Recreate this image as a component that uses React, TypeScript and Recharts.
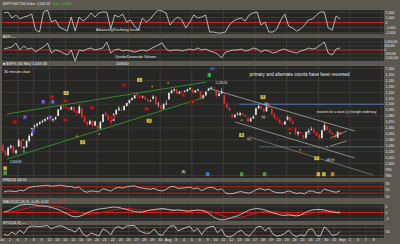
import React from 'react';
import {
  ComposedChart,
  Line,
  Bar,
  XAxis,
  YAxis,
  CartesianGrid,
  ReferenceLine,
  ReferenceDot,
} from 'recharts';

const FRAME = '#5b5850';
const PANEL_BG = '#262624';
const GRID = '#4e4d49';
const TXT = '#e8e8e8';
const RED = '#d41c1c';
const FONT = 'Liberation Sans, Arial, sans-serif';
const X_MAX = 48.3;

// 30-minute-ish OHLC bars (3 per trading day), Jul 1 - Aug 31
const ohlc: number[][] = [
  [1031,1034,1019,1021],[1021,1023,1011,1014],[1014,1028,1012,1027],
  [1027,1032,1024,1030],[1030,1031,1016,1018],[1018,1024,1015,1022],
  [1029,1042,1028,1039],[1039,1040,1024,1026],[1026,1030,1018,1028],
  [1028,1040,1026,1038],[1038,1049,1036,1047],[1047,1060,1046,1060],
  [1062,1066,1058,1064],[1064,1069,1061,1067],[1067,1071,1065,1070],
  [1070,1074,1068,1072],[1072,1076,1070,1075],[1075,1078,1073,1078],
  [1077,1080,1071,1073],[1073,1076,1070,1075],[1075,1079,1073,1078],
  [1080,1092,1080,1091],[1091,1099,1090,1096],[1096,1098,1093,1095],
  [1095,1100,1092,1093],[1093,1095,1089,1091],[1091,1096,1090,1095],
  [1095,1097,1086,1088],[1088,1090,1081,1085],[1085,1099,1084,1096],
  [1093,1093,1076,1078],[1078,1080,1068,1070],[1070,1072,1063,1065],
  [1066,1074,1065,1072],[1072,1073,1061,1064],[1064,1072,1063,1071],
  [1064,1065,1056,1059],[1059,1072,1058,1070],[1070,1083,1069,1083],
  [1086,1088,1080,1081],[1081,1083,1072,1074],[1074,1076,1065,1069],
  [1072,1085,1072,1083],[1083,1092,1082,1090],[1090,1097,1088,1093],
  [1092,1094,1086,1090],[1090,1098,1089,1097],[1097,1103,1096,1102],
  [1102,1108,1101,1107],[1107,1112,1106,1110],[1110,1115,1109,1115],
  [1118,1120,1112,1114],[1114,1116,1109,1111],[1111,1115,1110,1113],
  [1112,1114,1107,1108],[1108,1110,1103,1105],[1105,1108,1104,1106],
  [1109,1116,1108,1113],[1113,1114,1099,1100],[1100,1104,1095,1101],
  [1098,1099,1089,1092],[1092,1102,1091,1100],[1100,1107,1098,1101],
  [1108,1120,1108,1119],[1119,1125,1117,1123],[1123,1127,1121,1125],
  [1125,1126,1116,1118],[1118,1122,1117,1121],[1121,1123,1118,1120],
  [1121,1124,1120,1122],[1122,1126,1121,1125],[1125,1129,1124,1127],
  [1125,1126,1118,1120],[1120,1124,1119,1123],[1123,1126,1122,1125],
  [1122,1122,1107,1110],[1110,1116,1109,1115],[1115,1122,1114,1121],
  [1123,1127,1122,1126],[1126,1130,1124,1128],[1128,1129,1125,1127],
  [1122,1123,1111,1114],[1114,1120,1113,1118],[1118,1127,1117,1122],
  [1116,1116,1100,1101],[1101,1103,1092,1094],[1094,1096,1088,1089],
  [1082,1085,1076,1078],[1078,1084,1077,1082],[1082,1087,1081,1083],
  [1082,1087,1080,1085],[1085,1086,1080,1082],[1082,1083,1079,1079],
  [1077,1078,1069,1071],[1071,1077,1070,1076],[1076,1082,1075,1079],
  [1082,1094,1082,1093],[1093,1100,1092,1097],[1097,1098,1091,1092],
  [1092,1095,1086,1088],[1088,1097,1087,1096],[1096,1100,1093,1094],
  [1093,1095,1082,1083],[1083,1086,1074,1077],[1077,1079,1070,1075],
  [1073,1077,1066,1068],[1068,1070,1064,1066],[1066,1072,1065,1071],
  [1074,1081,1073,1078],[1078,1079,1070,1071],[1071,1073,1066,1067],
  [1060,1060,1048,1050],[1050,1055,1046,1053],[1053,1054,1049,1051],
  [1048,1049,1040,1043],[1043,1054,1042,1053],[1053,1059,1052,1055],
  [1057,1062,1055,1058],[1058,1059,1050,1052],[1052,1054,1047,1047],
  [1049,1050,1039,1043],[1043,1057,1042,1056],[1056,1066,1055,1065],
  [1063,1064,1055,1057],[1057,1058,1050,1052],[1052,1054,1048,1049],
  [1047,1050,1040,1044],[1044,1055,1043,1053],[1053,1054,1047,1049],
];

// Indicators, 2 readings per trading day
const adIssues = [
  1900,2100,900,1500,700,1100,1300,1700,-1500,-1900,
  2100,2500,100,500,-900,-1300,-1700,1100,-1700,1100,
  300,900,1900,1100,1900,2100,2100,-1300,1500,1100,
  1700,100,500,-700,-1500,900,100,700,1700,2500,
  2300,1900,-500,500,1100,500,-1100,100,1500,900,
  1100,1500,-1900,-1900,-2100,-2100,-1900,-500,300,700,
  900,300,1500,1900,2100,-500,100,-1900,-1900,-1300,
  500,1700,-700,-1100,-1700,-1300,-500,500,700,1500,
  2100,2100,-1100,-1500,1300,700,
];
const udVolume = [
  125000,250000,375000,875000,0,500000,125000,250000,-250000,125000,
  375000,875000,-375000,0,-125000,-375000,-625000,0,-1375000,0,
  -125000,125000,250000,0,125000,250000,1000000,-375000,0,125000,
  -125000,0,-125000,-250000,-125000,0,-125000,125000,375000,625000,
  875000,125000,-125000,0,0,-125000,0,125000,0,250000,
  0,125000,-125000,-250000,-500000,-1000000,-250000,-125000,0,0,
  125000,-125000,0,250000,125000,-250000,0,-125000,-375000,-250000,
  0,125000,-125000,-250000,-375000,-125000,0,250000,125000,250000,
  625000,1000000,-375000,-625000,125000,250000,
];
const rsi = [
  38,44,42,40,48,45,62,70,73,75,77,79,74,76,80,78,72,73,62,70,
  45,36,44,42,38,58,52,42,60,66,62,70,74,76,66,62,58,55,60,48,
  44,54,70,72,60,62,64,68,58,63,46,60,66,64,50,58,32,26,28,36,
  40,34,30,40,56,58,50,56,40,34,32,36,44,36,28,32,26,42,44,34,
  32,56,48,40,36,44,
];
const macd = [
  0.4,1.2,2.9,4.6,6.2,6.6,6.8,6.6,6.2,5.4,
  5.4,5.0,4.2,3.3,2.1,0.4,-1.2,-2.9,-3.7,-3.3,
  -2.1,-0.4,1.2,2.1,2.9,3.3,3.7,4.2,4.6,4.2,
  3.3,2.5,1.7,0.8,0.4,0.4,1.2,2.1,2.5,2.9,
  3.3,2.9,2.1,1.7,2.1,1.7,1.2,1.2,1.7,2.1,
  1.7,0.8,-1.2,-3.7,-5.4,-6.2,-5.8,-5.0,-3.7,-2.9,
  -1.2,0.4,2.1,2.9,3.3,2.9,2.1,0.8,-0.4,-1.2,
  -2.1,-2.5,-2.1,-2.5,-2.9,-2.1,-0.4,1.2,2.1,2.5,
  2.5,2.1,1.2,0.4,0.0,-0.4,
];
const signal = [
  0.0,0.2,0.6,1.2,2.0,2.8,3.6,4.3,4.8,5.1,
  5.3,5.4,5.3,5.0,4.6,3.9,3.0,2.0,0.9,0.0,
  -0.8,-1.3,-1.3,-1.0,-0.5,0.2,0.8,1.5,2.2,2.8,
  3.2,3.4,3.2,2.8,2.4,2.0,1.7,1.6,1.8,2.1,
  2.4,2.6,2.6,2.4,2.3,2.1,1.9,1.7,1.7,1.8,
  1.8,1.6,1.0,0.0,-1.2,-2.5,-3.6,-4.3,-4.6,-4.5,
  -4.0,-3.2,-2.2,-1.2,-0.3,0.4,0.9,1.1,0.9,0.5,
  -0.1,-0.7,-1.2,-1.6,-2.0,-2.1,-1.9,-1.3,-0.6,0.1,
  0.7,1.1,1.3,1.2,1.0,0.7,
];
const stoch = [
  30,20,45,28,60,35,80,92,90,88,92,95,70,85,94,90,70,62,45,80,
  30,12,40,28,15,70,55,25,75,88,70,92,95,96,60,45,35,40,70,30,
  20,60,90,95,55,68,80,90,50,75,25,70,85,90,40,70,15,8,20,45,
  60,30,15,50,85,90,55,80,30,15,20,35,60,25,10,25,15,65,70,20,
  15,85,60,20,25,50,
];

const dayLabels = [
  'Jul','2','6','7','8','9','12','13','14','15','16','19','20','21','22','23',
  '26','27','28','29','30','Aug','3','4','5','6','9','10','11','12','13','16',
  '17','18','19','20','23','24','25','26','27','30','31','Sep','2','3','7','8',
];
const dayTicks = dayLabels.map((_, i) => i);
const gridDays = [0,2,4,6,8,10,12,14,16,18,20,22,24,26,28,30,32,34,36,38,40,42,44,46,48];

const priceTicks = [980,990,1000,1010,1020,1030,1040,1050,1060,1070,1080,1090,1100,1110,1120,1130,1140,1150,1160];
const priceGrid = [980,1000,1020,1040,1060,1080,1100,1120,1140,1160];
const adTicks = [-2000,-1000,0,1000,2000];
const udTicks = [-1000000,-500000,0,500000,1000000];
const rsiTicks = [10,50,90];
const macdTicks = [-5,0,5];
const stochTicks = [50];

// annotations (day-position, price)
const redMarks = [
  [1.6,1070,'ii'],[6.3,1112,'iii'],[8.0,1105,'iv'],[8.0,1073,'a'],[11.4,1094,'b'],
  [13.9,1078,'c'],[15.4,1132,'i'],[17.4,1112,'ii'],[18.3,1092,'iv'],[22.9,1116,'v'],
  [24.1,1104,'b'],[36.4,1058,'c'],
];
const purpleMarks = [[5.2,1104,'3'],[6.4,1104,'4'],[2.9,1078,'1'],[3.9,1055,'2'],[6.1,1078,'a']];
const yellowMarks = [
  [8.1,1119,'3'],[17.4,1141,'5'],[18.6,1072,'4'],[10.2,1036,'4'],[33.0,1112,'B'],
  [30.3,1048,'A'],[39.8,1009,'C'],
];
const orangeDots = [
  [2.7,1040],[9.5,1046],[12.3,1050],[21.0,1136],[30.3,1073],[36.4,1051],[40.8,1068],
  [41.1,1028],[37.7,1023],[19.0,1130],
];
const bottomMarks = [
  [0.4,984,'#3fa03f'],[0.4,992,'#c8b83a'],[26.0,982,'#3a78d0'],[30.3,982,'#3fa03f'],
  [33.2,982,'#3fa03f'],[40.0,982,'#c8b83a'],[40.7,982,'#c8b83a'],[41.8,982,'#d07a2a'],
];
const whiteTexts = [
  [1.0,1001,'1,010.91'],[27.0,1134,'1,129.24'],[22.7,984,'(A)'],[33.2,1098,'(b)'],
  [32.8,1077,'(a)'],[31.0,1040,'(c)'],[41.0,1005,'(d) (e)'],[38.5,1050,'(c)'],
];

const candleData = ohlc.map(([o, h, l, c], i) => ({ t: i / 3 + 1 / 6, o, h, l, c }));
const indData = adIssues.map((v, i) => ({
  t: i / 2 + 0.25,
  ad: v,
  ud: udVolume[i],
  rsi: rsi[i],
  macd: macd[i],
  sig: signal[i],
  sto: stoch[i],
}));

const fmt = (v: number) => v.toLocaleString('en-US');

const Candle = (props: any) => {
  const { x, y, width, height, payload } = props;
  if (payload == null || x == null) return null;
  const { o, h, l, c } = payload;
  const top = Math.min(y, y + height);
  const bot = Math.max(y, y + height);
  const span = h - l || 1;
  const py = (p: number) => top + ((h - p) / span) * (bot - top);
  const up = c >= o;
  const color = up ? '#e4e4e4' : '#e22a2a';
  const cx = x + width / 2;
  const y1 = py(Math.max(o, c));
  const y2 = py(Math.min(o, c));
  return (
    <g>
      <line x1={cx} x2={cx} y1={top} y2={bot} stroke={color} strokeWidth={0.6} />
      <rect x={x} y={y1} width={width} height={Math.max(0.7, y2 - y1)} fill={color} />
    </g>
  );
};

const boxShape = (bg: string, fg: string, text: string, w = 5) => (p: any) => (
  <g>
    <rect x={p.cx - w / 2} y={p.cy - 2} width={w} height={4} fill={bg} />
    <text x={p.cx} y={p.cy + 1.2} fontSize={3} fill={fg} textAnchor="middle" fontFamily={FONT}>
      {text}
    </text>
  </g>
);
const textShape = (text: string, size = 3.2, color = TXT) => (p: any) => (
  <text x={p.cx} y={p.cy} fontSize={size} fill={color} fontFamily={FONT}>
    {text}
  </text>
);

const margin = { top: 0, right: 0, bottom: 0, left: 2 };
const yTick = { fontSize: 3.5, fill: TXT, fontFamily: FONT };

const Hx = () => <XAxis dataKey="t" type="number" domain={[0, X_MAX]} hide allowDataOverflow />;

const Pos = ({ top, children }: { top: number; children: React.ReactNode }) => (
  <div style={{ position: 'absolute', left: 0, top }}>{children}</div>
);

export default function App() {
  return (
    <div
      style={{
        position: 'fixed',
        left: 0,
        top: 0,
        width: 400,
        height: 244,
        background: FRAME,
        overflow: 'hidden',
        fontFamily: FONT,
      }}
    >
      {/* Advancing / declining issues */}
      <Pos top={10}>
        <ComposedChart width={400} height={24} data={indData} margin={margin}>
          <CartesianGrid fill={PANEL_BG} stroke={GRID} strokeWidth={0.5} verticalValues={gridDays} />
          {Hx()}
          <YAxis orientation="right" width={16} type="number" domain={[-2300, 2500]} ticks={adTicks}
            tick={yTick} tickFormatter={fmt} axisLine={false} tickLine={false} tickSize={0} tickMargin={1.5} interval={0} allowDataOverflow />
          <ReferenceLine y={0} stroke={RED} strokeWidth={1} />
          <Line dataKey="ad" stroke="#d6d6d6" strokeWidth={0.8} dot={false} isAnimationActive={false} />
        </ComposedChart>
      </Pos>

      {/* Upside / downside volume */}
      <Pos top={38}>
        <ComposedChart width={400} height={23} data={indData} margin={margin}>
          <CartesianGrid fill={PANEL_BG} stroke={GRID} strokeWidth={0.5} verticalValues={gridDays} />
          {Hx()}
          <YAxis orientation="right" width={16} type="number" domain={[-1375000, 1500000]} ticks={udTicks}
            tick={{ ...yTick, fontSize: 2.9 }} tickFormatter={fmt} axisLine={false} tickLine={false} tickSize={0} tickMargin={0.5} interval={0} allowDataOverflow />
          <ReferenceLine y={0} stroke={RED} strokeWidth={1} />
          <Line dataKey="ud" stroke="#d6d6d6" strokeWidth={0.8} dot={false} isAnimationActive={false} />
        </ComposedChart>
      </Pos>

      {/* Price panel */}
      <Pos top={66}>
        <ComposedChart width={400} height={112} data={candleData} margin={margin}>
          <CartesianGrid fill={PANEL_BG} stroke={GRID} strokeWidth={0.5} verticalValues={gridDays} horizontalValues={priceGrid} />
          {Hx()}
          <YAxis orientation="right" width={16} type="number" domain={[975.6, 1164.4]} ticks={priceTicks}
            tick={yTick} tickFormatter={fmt} axisLine={false} tickLine={false} tickSize={0} tickMargin={1.5} interval={0} allowDataOverflow />
          <ReferenceLine segment={[{ x: 30, y: 1100 }, { x: X_MAX, y: 1100 }]} stroke="#5b8cc0" strokeWidth={0.8} />
          <ReferenceLine segment={[{ x: 32.5, y: 1028 }, { x: X_MAX, y: 1028 }]} stroke="#7890a8" strokeWidth={0.6} />
          <ReferenceLine segment={[{ x: 0.63, y: 1083.5 }, { x: 25.9, y: 1137.5 }]} stroke="#2fa32f" strokeWidth={0.8} />
          <ReferenceLine segment={[{ x: 0.63, y: 1007.6 }, { x: 25.7, y: 1112 }]} stroke="#2fa32f" strokeWidth={0.8} />
          <ReferenceLine segment={[{ x: 26.0, y: 1127.3 }, { x: 44.6, y: 1054.8 }]} stroke="#b8b8b8" strokeWidth={0.7} />
          <ReferenceLine segment={[{ x: 29.5, y: 1070 }, { x: 44.6, y: 1009.3 }]} stroke="#b8b8b8" strokeWidth={0.7} />
          <ReferenceLine segment={[{ x: 31.3, y: 1044.7 }, { x: 46.9, y: 980.7 }]} stroke="#9a9a9a" strokeWidth={0.6} />
          <ReferenceLine segment={[{ x: 41.5, y: 1043 }, { x: 43.6, y: 1054.8 }]} stroke="#c8c8c8" strokeWidth={0.6} />
          <ReferenceLine segment={[{ x: 41.5, y: 1029.5 }, { x: 43.6, y: 1038 }]} stroke="#c8c8c8" strokeWidth={0.6} />
          <Bar dataKey={(d: any) => [d.l, d.h]} barSize={1.7} shape={(p: any) => <Candle {...p} />} isAnimationActive={false} />
          {orangeDots.map((d, i) => (
            <ReferenceDot key={'o' + i} x={d[0]} y={d[1]} r={0.9} fill="#d0802a" stroke="none" />
          ))}
          {redMarks.map((d, i) => (
            <ReferenceDot key={'r' + i} x={d[0] as number} y={d[1] as number} r={0}
              shape={boxShape('#7a1414', '#ff5a5a', d[2] as string)} />
          ))}
          {purpleMarks.map((d, i) => (
            <ReferenceDot key={'p' + i} x={d[0] as number} y={d[1] as number} r={0}
              shape={boxShape('#5a3a9a', '#e0d0ff', d[2] as string, 4)} />
          ))}
          {yellowMarks.map((d, i) => (
            <ReferenceDot key={'y' + i} x={d[0] as number} y={d[1] as number} r={0}
              shape={boxShape('#c8bc3c', '#222', d[2] as string)} />
          ))}
          {bottomMarks.map((d, i) => (
            <ReferenceDot key={'b' + i} x={d[0] as number} y={d[1] as number} r={0}
              shape={boxShape(d[2] as string, '#111', '', 3.5)} />
          ))}
          <ReferenceDot x={26.3} y={1158} r={0} shape={textShape('(B)', 4, '#4a8ae0')} />
          <ReferenceDot x={26.2} y={1149} r={0} shape={boxShape('#2f9a2f', '#dfffdf', '1', 3.5)} />
          {whiteTexts.map((d, i) => (
            <ReferenceDot key={'w' + i} x={d[0] as number} y={d[1] as number} r={0}
              shape={textShape(d[2] as string, 3)} />
          ))}
          <ReferenceDot x={31.3} y={1147.6} r={0}
            shape={textShape('primary and alternate counts have been reversed', 4.6)} />
          <ReferenceDot x={39.8} y={1085} r={0}
            shape={textShape('reaction for a wave (c) triangle underway', 3.3)} />
        </ComposedChart>
      </Pos>

      {/* RSI */}
      <Pos top={182}>
        <ComposedChart width={400} height={16} data={indData} margin={margin}>
          <CartesianGrid fill={PANEL_BG} stroke={GRID} strokeWidth={0.5} verticalValues={gridDays} />
          {Hx()}
          <YAxis orientation="right" width={16} type="number" domain={[0, 100]} ticks={rsiTicks}
            tick={yTick} axisLine={false} tickLine={false} tickSize={0} tickMargin={1.5} interval={0} allowDataOverflow />
          <ReferenceLine y={70} stroke={RED} strokeWidth={0.9} />
          <ReferenceLine y={30} stroke={RED} strokeWidth={0.9} />
          <Line dataKey="rsi" stroke="#d6d6d6" strokeWidth={0.8} dot={false} isAnimationActive={false} />
        </ComposedChart>
      </Pos>

      {/* MACD */}
      <Pos top={204}>
        <ComposedChart width={400} height={17} data={indData} margin={margin}>
          <CartesianGrid fill={PANEL_BG} stroke={GRID} strokeWidth={0.5} verticalValues={gridDays} />
          {Hx()}
          <YAxis orientation="right" width={16} type="number" domain={[-7.1, 7.1]} ticks={macdTicks}
            tick={yTick} axisLine={false} tickLine={false} tickSize={0} tickMargin={1.5} interval={0} allowDataOverflow />
          <ReferenceLine y={0} stroke={RED} strokeWidth={1} />
          <Line dataKey="sig" stroke="#d02020" strokeWidth={0.9} dot={false} isAnimationActive={false} />
          <Line dataKey="macd" stroke="#dcdcdc" strokeWidth={0.8} dot={false} isAnimationActive={false} />
        </ComposedChart>
      </Pos>

      {/* Stochastic + date axis */}
      <Pos top={225}>
        <ComposedChart width={400} height={19} data={indData} margin={margin}>
          <CartesianGrid fill={PANEL_BG} stroke={GRID} strokeWidth={0.5} verticalValues={gridDays} />
          <XAxis dataKey="t" type="number" domain={[0, X_MAX]} ticks={dayTicks} interval={0}
            tickFormatter={(v: number) => dayLabels[v] ?? ''} height={6} axisLine={false} tickLine={false}
            tickSize={0} tickMargin={0.5} tick={{ fontSize: 3.6, fill: TXT, fontFamily: FONT }} allowDataOverflow />
          <YAxis orientation="right" width={16} type="number" domain={[0, 100]} ticks={stochTicks}
            tick={yTick} axisLine={false} tickLine={false} tickSize={0} tickMargin={1.5} interval={0} allowDataOverflow />
          <ReferenceLine y={80} stroke={RED} strokeWidth={0.9} />
          <ReferenceLine y={20} stroke={RED} strokeWidth={0.9} />
          <Line dataKey="sto" stroke="#dcdcdc" strokeWidth={0.8} dot={false} isAnimationActive={false} />
        </ComposedChart>
      </Pos>

      {/* labels */}
      <svg width={400} height={244} style={{ position: 'absolute', left: 0, top: 0, pointerEvents: 'none' }}>
        <g fontFamily={FONT} fill={TXT}>
          <text x={3} y={5} fontSize={3.4}>$SPX S&amp;P 500 Index</text>
          <text x={37} y={5} fontSize={3.4}>1,049.33</text>
          <text x={53} y={5} fontSize={3.4} fill="#49c449">0.41 +0.04%</text>
          <text x={96} y={31} fontSize={3.6}>Advancing/Declining Issues</text>
          <text x={3} y={37.5} fontSize={3.6}>ADV —</text>
          <text x={115} y={58} fontSize={3.6}>Upside/Downside Volume</text>
          <text x={3} y={64.8} fontSize={3.8}>■ $SPX (30 Min) 1,049.33</text>
          <text x={116} y={64.8} fontSize={3.8}>10/8/10</text>
          <text x={4} y={73} fontSize={3.8}>30 minute chart</text>
          <text x={3} y={181} fontSize={3.8}>RSI(14) 44.51</text>
          <text x={3} y={202.5} fontSize={3.8}>MACD(12,26,9) -0.40, 0.32</text>
          <text x={52} y={202.5} fontSize={3.8} fill="#e03030">— -0.72</text>
          <text x={3} y={223.5} fontSize={3.8}>STO(14,3) — <tspan fill="#e03030">54</tspan></text>
        </g>
      </svg>
    </div>
  );
}
